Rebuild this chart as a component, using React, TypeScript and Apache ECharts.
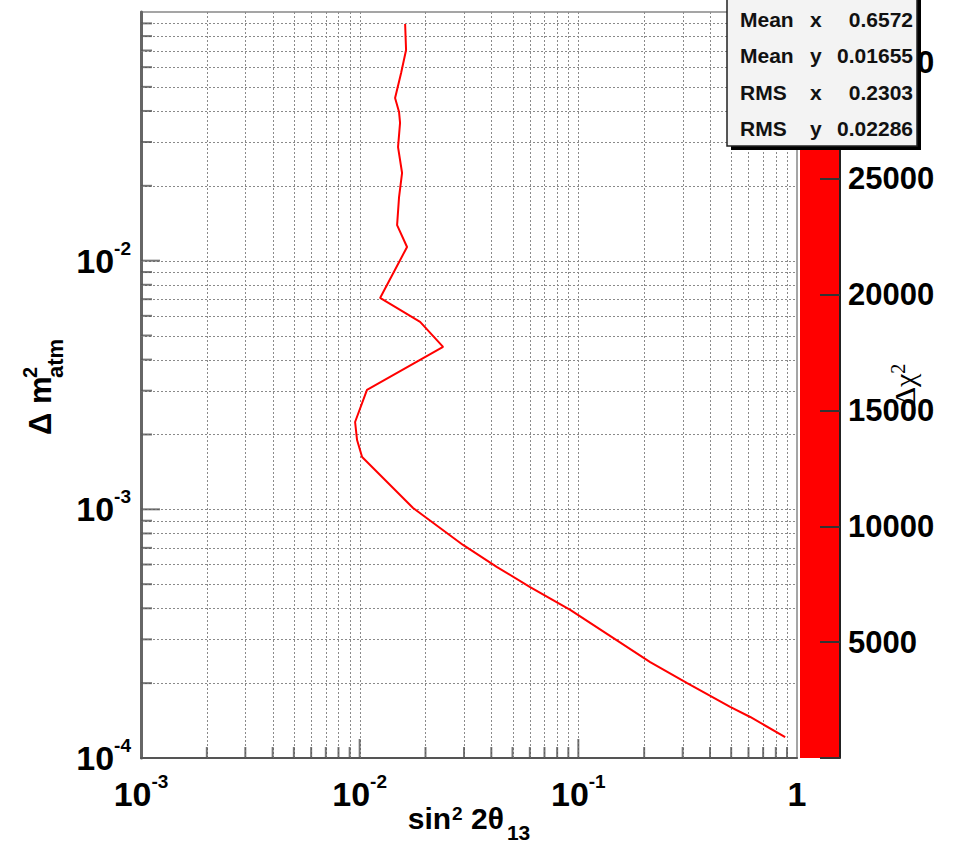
import React, { useEffect, useRef } from 'react';
import * as echarts from 'echarts';

// Contour curve (sin^2 2theta13, Delta m^2_atm), top to bottom
const curveX = [0.01614, 0.0163, 0.01547, 0.01452, 0.01514, 0.0153, 0.01498, 0.01563, 0.01514, 0.01483, 0.01647, 0.0124, 0.0189, 0.02407, 0.0108, 0.00953, 0.00973, 0.01026, 0.0124, 0.01755, 0.0297, 0.0425, 0.0602, 0.0918, 0.1442, 0.2131, 0.3146, 0.4947, 0.611, 0.883];
const curveY = [0.0895, 0.0703, 0.0568, 0.0451, 0.0396, 0.0358, 0.0286, 0.02252, 0.01803, 0.0139, 0.01135, 0.00708, 0.00567, 0.0045, 0.00302, 0.002245, 0.0019, 0.001623, 0.001374, 0.001012, 0.000719, 0.000586, 0.000487, 0.000394, 0.000304, 0.000243, 0.0002, 0.0001604, 0.0001462, 0.0001214];

// Axis ranges and tick positions
const xRange = [0.001, 1];
const yRange = [0.0001, 0.1];
const xMajorTicks = [0.01, 0.1];
const xMinorTicks = [0.002, 0.003, 0.004, 0.005, 0.006, 0.007, 0.008, 0.009, 0.02, 0.03, 0.04, 0.05, 0.06, 0.07, 0.08, 0.09, 0.2, 0.3, 0.4, 0.5, 0.6, 0.7, 0.8, 0.9];
const yMajorTicks = [0.001, 0.01];
const yMinorTicks = [0.0002, 0.0003, 0.0004, 0.0005, 0.0006, 0.0007, 0.0008, 0.0009, 0.002, 0.003, 0.004, 0.005, 0.006, 0.007, 0.008, 0.009, 0.02, 0.03, 0.04, 0.05, 0.06, 0.07, 0.08, 0.09];

// Colour scale (Delta chi^2)
const zRange = [0, 32200];
const zInterval = 5000;

// Statistics box
const statNames = ['Mean', 'Mean', 'RMS', 'RMS'];
const statAxes = ['x', 'y', 'x', 'y'];
const statValues = ['0.6572', '0.01655', '0.2303', '0.02286'];

const FONT = "'Liberation Sans', Arial, Helvetica, sans-serif";
const GRID_STYLE = { stroke: '#8a8a8a', lineWidth: 1, lineDash: [2, 2] };

export default function App() {
  const ref = useRef<HTMLDivElement>(null);

  useEffect(() => {
    const chart = echarts.init(ref.current!, undefined, { renderer: 'svg' });

    const powLabel = (v: number) => {
      const e = Math.round(Math.log10(v));
      if (e === 0) return '{b|1}';
      return `{b|10}{s|${e}}`;
    };
    const richPow = {
      b: { fontSize: 34, fontWeight: 'bold', fontFamily: FONT, color: '#000', lineHeight: 44, verticalAlign: 'middle' },
      s: { fontSize: 19, fontWeight: 'bold', fontFamily: FONT, color: '#000', lineHeight: 20, verticalAlign: 'top' },
    };

    const tickSeries = (data: number[][], size: number[], offset: number[]) => ({
      type: 'scatter',
      xAxisIndex: 0,
      yAxisIndex: 0,
      data,
      symbol: 'rect',
      symbolSize: size,
      symbolOffset: offset,
      itemStyle: { color: '#555' },
      silent: true,
      clip: false,
      z: 2,
    });

    const gridSeries = (data: number[][], vertical: boolean) => ({
      type: 'custom',
      xAxisIndex: 0,
      yAxisIndex: 0,
      data,
      silent: true,
      clip: false,
      z: 1,
      renderItem: (params: any, api: any) => {
        const p = api.coord([api.value(0), api.value(1)]);
        const cs = params.coordSys;
        if (vertical) {
          const x = Math.round(p[0]) + 0.5;
          return { type: 'line', shape: { x1: x, y1: cs.y, x2: x, y2: cs.y + cs.height }, style: GRID_STYLE };
        }
        const y = Math.round(p[1]) + 0.5;
        return { type: 'line', shape: { x1: cs.x, y1: y, x2: cs.x + cs.width, y2: y }, style: GRID_STYLE };
      },
    });

    const statTexts: any[] = [];
    statNames.forEach((n, i) => {
      const cy = 19 + i * 36.5;
      const fontStr = `bold 21px ${FONT}`;
      statTexts.push({ type: 'text', z: 110, x: 740, y: cy, style: { text: n, font: fontStr, fill: '#111', verticalAlign: 'middle', align: 'left' } });
      statTexts.push({ type: 'text', z: 110, x: 810, y: cy, style: { text: statAxes[i], font: fontStr, fill: '#111', verticalAlign: 'middle', align: 'left' } });
      statTexts.push({ type: 'text', z: 110, x: 913, y: cy, style: { text: statValues[i], font: fontStr, fill: '#111', verticalAlign: 'middle', align: 'right' } });
    });

    chart.setOption({
      animation: false,
      backgroundColor: '#ffffff',
      grid: [
        { left: 141, right: 166, top: 12, bottom: 86, show: true, borderColor: '#888', borderWidth: 1.5, backgroundColor: '#fff', containLabel: false, outerBoundsMode: 'none' },
        { left: 800, right: 123, top: 12, bottom: 86, show: true, borderWidth: 0, backgroundColor: '#ff0000', containLabel: false, outerBoundsMode: 'none' },
      ],
      xAxis: [
        {
          type: 'log',
          logBase: 10,
          gridIndex: 0,
          min: xRange[0],
          max: xRange[1],
          axisLine: { show: true, onZero: false, lineStyle: { color: '#555', width: 2 } },
          axisTick: { show: false },
          splitLine: { show: false },
          axisLabel: { formatter: powLabel, rich: richPow, margin: 14 },
          name: '{t|sin}{sp|2}{t| 2θ}{sb|13}',
          nameLocation: 'middle',
          nameGap: 35,
          nameMoveOverlap: false,
          nameTextStyle: {
            rich: {
              t: { fontSize: 30, fontWeight: 'bold', fontFamily: FONT, color: '#000', lineHeight: 50, verticalAlign: 'middle' },
              sp: { fontSize: 19, fontWeight: 'bold', fontFamily: FONT, color: '#000', lineHeight: 20, verticalAlign: 'top', padding: [11, 0, 0, 1] },
              sb: { fontSize: 21, fontWeight: 'bold', fontFamily: FONT, color: '#000', lineHeight: 20, verticalAlign: 'bottom', padding: [0, 0, 0, 3] },
            },
          },
        },
        { type: 'value', gridIndex: 1, show: false, min: 0, max: 1 },
      ],
      yAxis: [
        {
          type: 'log',
          logBase: 10,
          gridIndex: 0,
          min: yRange[0],
          max: yRange[1],
          axisLine: { show: true, onZero: false, lineStyle: { color: '#666', width: 3 } },
          axisTick: { show: false },
          splitLine: { show: false },
          axisLabel: {
            formatter: (v: number) => (v >= yRange[1] * 0.99 ? '' : powLabel(v)),
            rich: richPow,
            margin: 10,
          },
        },
        {
          type: 'value',
          gridIndex: 1,
          position: 'right',
          min: zRange[0],
          max: zRange[1],
          interval: zInterval,
          axisLine: { show: true, onZero: false, lineStyle: { color: '#222', width: 2 } },
          axisTick: { show: true, inside: true, length: 20, lineStyle: { color: '#333', width: 2 } },
          splitLine: { show: false },
          axisLabel: {
            fontSize: 31,
            fontWeight: 'bold',
            fontFamily: FONT,
            color: '#000',
            margin: 8,
            formatter: (v: number) => (v > 0 && v % zInterval === 0 ? String(v) : ''),
          },
          name: '{d|Δχ}{s|2}',
          nameLocation: 'middle',
          nameGap: 48,
          nameMoveOverlap: false,
          nameTextStyle: {
            rich: {
              d: { fontSize: 30, fontFamily: "'Liberation Serif', serif", color: '#000', lineHeight: 32, verticalAlign: 'middle' },
              s: { fontSize: 20, fontFamily: "'Liberation Serif', serif", color: '#000', lineHeight: 20, verticalAlign: 'top' },
            },
          },
        },
      ],
      series: [
        gridSeries([...xMinorTicks, ...xMajorTicks].map((v) => [v, yRange[0]]), true),
        gridSeries([...yMinorTicks, ...yMajorTicks].map((v) => [xRange[0], v]), false),
        tickSeries(xMinorTicks.map((v) => [v, yRange[0]]), [2, 11], [0, -5.5]),
        tickSeries(xMajorTicks.map((v) => [v, yRange[0]]), [2, 19], [0, -9.5]),
        tickSeries(yMinorTicks.map((v) => [xRange[0], v]), [11, 2], [5.5, 0]),
        tickSeries(yMajorTicks.map((v) => [xRange[0], v]), [19, 2], [9.5, 0]),
        {
          type: 'line',
          xAxisIndex: 0,
          yAxisIndex: 0,
          data: curveX.map((x, i) => [x, curveY[i]]),
          symbol: 'none',
          lineStyle: { color: '#ff0000', width: 2 },
          silent: true,
          z: 5,
        },
      ],
      graphic: [
        {
          type: 'group',
          x: 51,
          y: 435,
          rotation: Math.PI / 2,
          children: [
            { type: 'text', x: 0, y: -11, style: { text: 'Δ m', font: `bold 31px ${FONT}`, fill: '#000', verticalAlign: 'middle', align: 'left' } },
            { type: 'text', x: 57, y: -21, style: { text: '2', font: `bold 20px ${FONT}`, fill: '#000', verticalAlign: 'middle', align: 'left' } },
            { type: 'text', x: 57, y: 4, style: { text: 'atm', font: `bold 22px ${FONT}`, fill: '#000', verticalAlign: 'middle', align: 'left' } },
          ],
        },
        { type: 'rect', z: 100, shape: { x: 731, y: -2, width: 190, height: 152 }, style: { fill: '#000' } },
        { type: 'rect', z: 101, shape: { x: 727, y: -6, width: 190, height: 152 }, style: { fill: '#f3f3f3', stroke: '#222', lineWidth: 1.5 } },
        ...statTexts,
      ],
    });

    return () => chart.dispose();
  }, []);

  return <div ref={ref} style={{ position: 'fixed', left: 0, top: 0, width: 963, height: 844 }} />;
}
